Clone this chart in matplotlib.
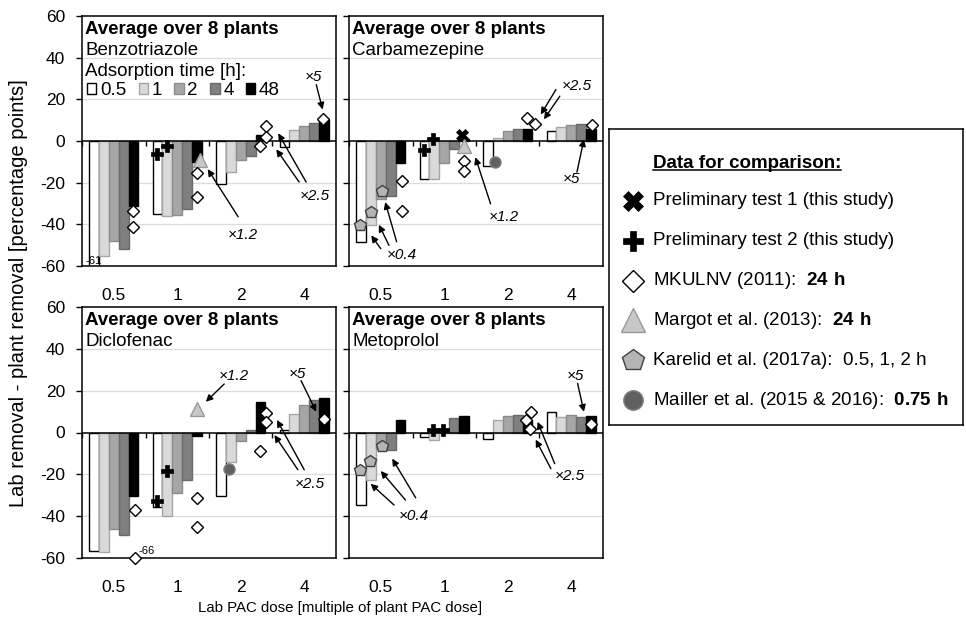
import numpy as np
import matplotlib.pyplot as plt
from matplotlib.patches import Patch

plt.rcParams['font.family'] = ['Liberation Sans', 'DejaVu Sans']
plt.rcParams['mathtext.fontset'] = 'custom'
plt.rcParams['mathtext.rm'] = 'Liberation Sans'
plt.rcParams['mathtext.bf'] = 'Liberation Sans:bold'
plt.rcParams['axes.unicode_minus'] = False

doses = ['0.5', '1', '2', '4']
times = ['0.5', '1', '2', '4', '48']

# lab removal - plant removal, one row per dose, one column per adsorption time
benzo_bars = [[-61, -55, -48, -52, -31],
              [-35, -36, -35.5, -32.5, -10],
              [-20.5, -15, -9, -7, 3],
              [-3, 5.5, 7, 8.5, 10]]
carba_bars = [[-48.5, -40.5, -28, -26.5, -10.5],
              [-18, -18, -10.5, -4, 1],
              [-12, 1.5, 4.8, 6, 6],
              [4.8, 6.7, 7.5, 8, 6]]
diclo_bars = [[-56.5, -57, -46, -49, -30.5],
              [-35.5, -40, -29, -22.5, -1.5],
              [-30.5, -14, -4, 1.2, 14.7],
              [1, 9, 13, 15.5, 16.5]]
meto_bars = [[-34.5, -22.5, -7.7, -8.2, 6.2],
             [-2, -3.4, 1, 6.7, 7.9],
             [-2.9, 6.2, 7.9, 8.4, 6],
             [9.6, 7.5, 8.3, 7.2, 7.9]]

# comparison data: (dose index, value)
benzo_prelim2 = ([1, 1], [-6, -2.5])
benzo_margot = ([1], [-9])
benzo_mkulnv = ([0, 0, 1, 1, 2, 2, 2, 3], [-33.5, -41.5, -15.5, -27, 7.2, 2.1, -2.4, 10.5])

carba_prelim1 = ([1], [2.7])
carba_prelim2 = ([1, 1], [-4.3, 1.1])
carba_margot = ([1], [-2.4])
carba_mkulnv = ([0, 0, 1, 1, 2, 2, 3], [-19, -33.5, -9.5, -14.3, 11, 8, 7.5])
carba_karelid = ([0, 0, 0], [-40.3, -34, -24.2])
carba_mailler = ([2], [-10])

diclo_prelim2 = ([1, 1], [-32.8, -18.4])
diclo_margot = ([1], [11])
diclo_mkulnv = ([0, 0, 1, 1, 2, 2, 2, 3], [-37, -66, -31.5, -45, -9, 9.4, 5.1, 6.4])
diclo_mailler = ([2], [-17.3])

meto_prelim2 = ([1, 1], [1.0, 1.3])
meto_mkulnv = ([2, 2, 2, 3], [9.9, 6.2, 1.9, 4.0])
meto_karelid = ([0, 0, 0], [-18.1, -13.6, -6.4])

# horizontal offsets of the comparison markers inside a dose group
benzo_off = {'prelim2': [-0.32, -0.16], 'margot': [0.36],
             'mkulnv': [0.31, 0.31, 0.31, 0.31, 0.39, 0.39, 0.31, 0.29]}
carba_off = {'prelim1': [0.28], 'prelim2': [-0.32, -0.17], 'margot': [0.31],
             'mkulnv': [0.33, 0.33, 0.31, 0.31, 0.30, 0.43, 0.32],
             'karelid': [-0.32, -0.15, 0.02], 'mailler': [-0.2]}
diclo_off = {'prelim2': [-0.32, -0.16], 'margot': [0.31],
             'mkulnv': [0.33, 0.33, 0.31, 0.31, 0.30, 0.39, 0.39, 0.31], 'mailler': [-0.18]}
meto_off = {'prelim2': [-0.17, -0.02], 'mkulnv': [0.37, 0.28, 0.35, 0.31],
            'karelid': [-0.33, -0.17, 0.02]}

panels = [
    ('Benzotriazole', benzo_bars,
     {'prelim2': benzo_prelim2, 'margot': benzo_margot, 'mkulnv': benzo_mkulnv}, benzo_off),
    ('Carbamezepine', carba_bars,
     {'prelim1': carba_prelim1, 'prelim2': carba_prelim2, 'margot': carba_margot,
      'mkulnv': carba_mkulnv, 'karelid': carba_karelid, 'mailler': carba_mailler}, carba_off),
    ('Diclofenac', diclo_bars,
     {'prelim2': diclo_prelim2, 'margot': diclo_margot, 'mkulnv': diclo_mkulnv,
      'mailler': diclo_mailler}, diclo_off),
    ('Metoprolol', meto_bars,
     {'prelim2': meto_prelim2, 'mkulnv': meto_mkulnv, 'karelid': meto_karelid}, meto_off),
]

# dose-ratio annotations: (label, text position, [(tail, tip), ...])
notes = [
    [('×1.2', (2.03, -45.3), [((1.96, -36.4), (1.48, -13.5))]),
     ('×5', (3.15, 30.9), [((3.19, 27), (3.29, 15.1))]),
     ('×2.5', (3.16, -26.3), [((2.92, -19.7), (2.56, -4)), ((3.03, -19.7), (2.59, 3.7))])],
    [('×0.4', (0.33, -54.9), [((0.0, -51.7), (-0.15, -45.3)), ((0.13, -50.1), (-0.03, -40.2)),
                              ((0.25, -48.4), (0.07, -29.3))]),
     ('×1.2', (1.94, -36.4), [((1.73, -30.2), (1.49, -7.8))]),
     ('×2.5', (3.08, 26.6), [((2.76, 24.7), (2.52, 12.7)), ((2.82, 21.5), (2.57, 10.4))]),
     ('×5', (3.01, -18.3), [((3.09, -14.9), (3.2, 0.8))])],
    [('×1.2', (1.89, 27.2), [((1.74, 23.2), (1.45, 14.7))]),
     ('×5', (2.9, 27.8), [((2.95, 24.8), (3.19, 9.9))]),
     ('×2.5', (3.08, -24.5), [((2.9, -17.8), (2.53, -1.2)), ((3.0, -17.8), (2.57, 6))])],
    [('×0.4', (0.52, -39.7), [((0.21, -34.7), (-0.16, -24.5)), ((0.39, -32.3), (0.0, -18.4)),
                              ((0.55, -31.2), (0.18, -12.5))]),
     ('×2.5', (2.97, -20.9), [((2.74, -14.9), (2.47, 5.1)), ((2.68, -17.3), (2.44, -3.4))]),
     ('×5', (3.07, 27.1), [((3.1, 23.5), (3.2, 9.9))])],
]

bar_face = ['white', '#d9d9d9', '#a6a6a6', '#7f7f7f', 'black']
bar_edge = ['black', '#a6a6a6', '#8c8c8c', '#6a6a6a', 'black']

styles = {
    'prelim1': dict(marker='X', ms=8, mfc='black', mec='black', mew=0.5),
    'prelim2': dict(marker='P', ms=8.5, mfc='black', mec='black', mew=0.5),
    'mkulnv': dict(marker='D', ms=6.5, mfc='white', mec='black', mew=1),
    'margot': dict(marker='^', ms=10, mfc='#c8c8c8', mec='#9a9a9a', mew=1),
    'karelid': dict(marker='p', ms=9, mfc='#b4b4b4', mec='#404040', mew=1),
    'mailler': dict(marker='o', ms=8, mfc='#606060', mec='#808080', mew=1),
}
legend_order = ['prelim1', 'prelim2', 'mkulnv', 'margot', 'karelid', 'mailler']
legend_labels = ['Preliminary test 1 (this study)',
                 'Preliminary test 2 (this study)',
                 r'MKULNV (2011):  $\mathbf{24\ h}$',
                 r'Margot et al. (2013):  $\mathbf{24\ h}$',
                 'Karelid et al. (2017a):  0.5, 1, 2 h',
                 r'Mailler et al. (2015 & 2016):  $\mathbf{0.75\ h}$']
legend_ms = {'prelim1': 14, 'prelim2': 14, 'mkulnv': 11, 'margot': 17, 'karelid': 16, 'mailler': 14}

fig = plt.figure(figsize=(9.66, 6.25), dpi=100)
rects = [(0.0849, 0.5744, 0.2629, 0.40), (0.3613, 0.5744, 0.2629, 0.40),
         (0.0849, 0.1072, 0.2629, 0.4016), (0.3613, 0.1072, 0.2629, 0.4016)]

x = np.arange(len(doses))
w = 0.155
for i, (name, bars, series, offs) in enumerate(panels):
    ax = fig.add_axes(rects[i])
    ax.set_xlim(-0.5, len(doses) - 0.5)
    ax.set_ylim(-60, 60)
    for y in [-40, -20, 20, 40]:
        ax.axhline(y, color='#dcdcdc', lw=0.9, zorder=0)
    vals = np.array(bars)
    for j in range(len(times)):
        ax.bar(x + (j - 2) * w, vals[:, j], width=w, color=bar_face[j],
               edgecolor=bar_edge[j], lw=1, zorder=2, label=times[j])
        for k in range(len(doses)):
            if vals[k, j] < -60:
                ax.text(x[k] + (j - 2) * w, -57.5, f'{vals[k, j]:g}', fontsize=8,
                        ha='center', va='center', zorder=6)
    ax.axhline(0, color='black', lw=1.1, zorder=3)
    ax.vlines(np.arange(len(doses) + 1) - 0.5, -2.4, 0, color='black', lw=1, zorder=3)

    for key, (cats, yv) in series.items():
        xs = np.array(cats) + np.array(offs[key])
        yv = np.array(yv, dtype=float)
        ax.plot(xs, np.clip(yv, -60, None), ls='none', zorder=4, clip_on=False, **styles[key])
        for xi, yi in zip(xs, yv):
            if yi < -60:
                ax.text(xi + 0.06, -56.5, f'{yi:g}', fontsize=8, ha='left', va='center')

    for label, tpos, arrows in notes[i]:
        ax.text(*tpos, label, fontsize=11, style='italic', ha='center', va='center', zorder=6)
        for tail, tip in arrows:
            ax.annotate('', xy=tip, xytext=tail, zorder=6,
                        arrowprops=dict(arrowstyle='-|>', color='black', lw=1,
                                        mutation_scale=10, shrinkA=0, shrinkB=0))

    ax.text(0.012, 0.948, 'Average over 8 plants', transform=ax.transAxes,
            fontsize=13.5, fontweight='bold', va='center', ha='left')
    ax.text(0.012, 0.862, name, transform=ax.transAxes, fontsize=13.5, va='center', ha='left')

    ax.set_yticks(range(-60, 61, 20))
    ax.set_xticks(x)
    ax.set_xticklabels(doses)
    ax.tick_params(axis='x', length=0, pad=16, labelsize=12.5)
    ax.tick_params(axis='y', direction='out', length=4, width=1, pad=8, labelsize=12.5,
                   labelleft=(i % 2 == 0))
    for sp in ax.spines.values():
        sp.set_linewidth(1.1)

    if i == 0:
        ax.text(0.012, 0.777, 'Adsorption time [h]:', transform=ax.transAxes,
                fontsize=13.5, va='center', ha='left')
        handles = [Patch(facecolor=bar_face[j], edgecolor=bar_edge[j], lw=1) for j in range(len(times))]
        ax.legend(handles, times, ncol=5, loc='upper left', bbox_to_anchor=(0.02, 0.735),
                  frameon=False, handlelength=0.5, handleheight=0.5, handletextpad=0.2,
                  columnspacing=0.65, fontsize=13.5, borderpad=0, borderaxespad=0)

fig.text(0.019, 0.531, 'Lab removal - plant removal [percentage points]', rotation=90,
         ha='center', va='center', fontsize=14.5)
fig.text(0.352, 0.027, 'Lab PAC dose [multiple of plant PAC dose]', ha='center',
         va='center', fontsize=10.8)

# comparison legend box
lax = fig.add_axes((0.6304, 0.32, 0.3665, 0.4736))
lax.set_xlim(0, 1)
lax.set_ylim(0, 1)
lax.set_xticks([])
lax.set_yticks([])
for sp in lax.spines.values():
    sp.set_linewidth(1.1)
title = lax.text(0.124, 0.885, 'Data for comparison:', fontsize=13.5, fontweight='bold',
                 ha='left', va='center')
rows = np.linspace(0.757, 0.084, len(legend_order))
for key, lbl, yr in zip(legend_order, legend_labels, rows):
    st = dict(styles[key])
    st['ms'] = legend_ms[key]
    lax.plot([0.068], [yr], ls='none', **st)
    lax.text(0.124, yr, lbl, fontsize=13.5, ha='left', va='center')

fig.canvas.draw()
bb = title.get_window_extent().transformed(lax.transAxes.inverted())
lax.plot([bb.x0, bb.x1], [bb.y0 + 0.005, bb.y0 + 0.005], color='black', lw=1.1)

fig.savefig('out.png', dpi=100)
